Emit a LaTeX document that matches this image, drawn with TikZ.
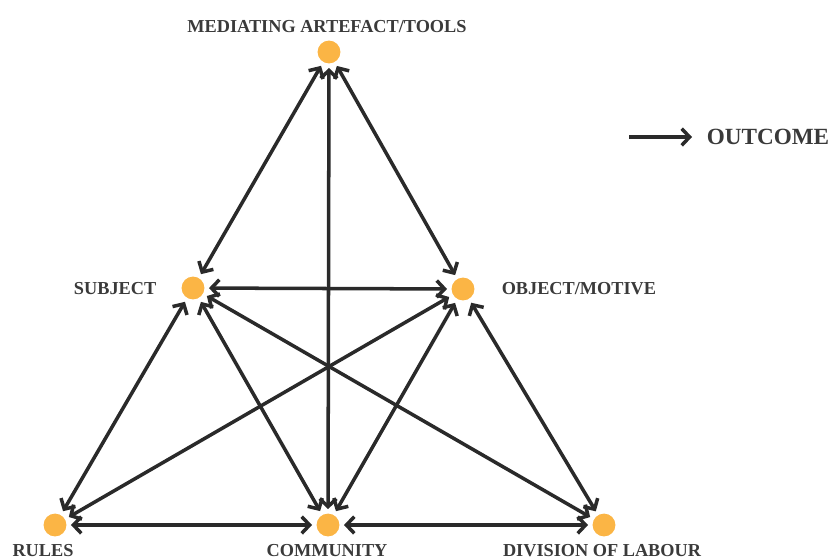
\documentclass[tikz,border=0pt]{standalone}
\usepackage{fontspec}
\setmainfont{Liberation Serif}
\usetikzlibrary{arrows.meta}
\definecolor{dotorange}{HTML}{FBB545}
\definecolor{linkgray}{HTML}{2A2A2A}
\definecolor{textgray}{HTML}{3A3A3A}
\newcommand{\actpoint}[2] {\node at (#1) (#2) [circle, fill=dotorange, inner sep=0pt, minimum size=13pt, outer sep=2.6pt] {};}
\newcommand{\acttext}[4] {\node at (#1) (#2) [anchor=#3, inner sep=0pt, text=textgray, font=\fontsize{10.4}{12}\selectfont\bfseries] {#4};}
\newcommand{\actlink}[2] {\draw [{Straight Barb[length=4.5pt,width=9.5pt]}-{Straight Barb[length=4.5pt,width=9.5pt]}] (#1) -- (#2);}

\begin{document}
\begin{tikzpicture}[x=0.02cm, y=-0.02cm, line width=2pt, draw=linkgray]
\useasboundingbox (0,0) rectangle (830,559);

\actpoint {329,52}{tools}
\actpoint {193,288}{subject}
\actpoint {463,289}{object}
\actpoint {55,525}{rules}
\actpoint {328,525}{community}
\actpoint {604,525}{division}

\acttext {327,32}{toolstext}{base}{MEDIATING ARTEFACT/TOOLS}
\acttext {158,294}{subjecttext}{base east}{SUBJECT}
\acttext {500,294}{objecttext}{base west}{OBJECT/MOTIVE}
\acttext {43,556}{rulestext}{base}{RULES}
\acttext {327,556}{communitytext}{base}{COMMUNITY}
\acttext {602,556}{divisiontext}{base}{DIVISION OF LABOUR}

\actlink {tools}{subject}
\actlink {tools}{object}
\actlink {tools}{community}
\actlink {subject}{object}
\actlink {subject}{rules}
\actlink {subject}{community}
\actlink {subject}{division}
\actlink {object}{rules}
\actlink {object}{community}
\actlink {object}{division}
\actlink {rules}{community}
\actlink {community}{division}

% outcome
\coordinate (outa) at (629,137);
\coordinate (outb) at (692,137);
\draw [-{Straight Barb[length=4.5pt,width=9.5pt]}] (outa) -- (outb);
\node at (705,144.5) (outcome) [anchor=base west, inner sep=0pt, text=textgray, font=\fontsize{13.2}{15}\selectfont\bfseries] {OUTCOME};
\end{tikzpicture}
\end{document}
